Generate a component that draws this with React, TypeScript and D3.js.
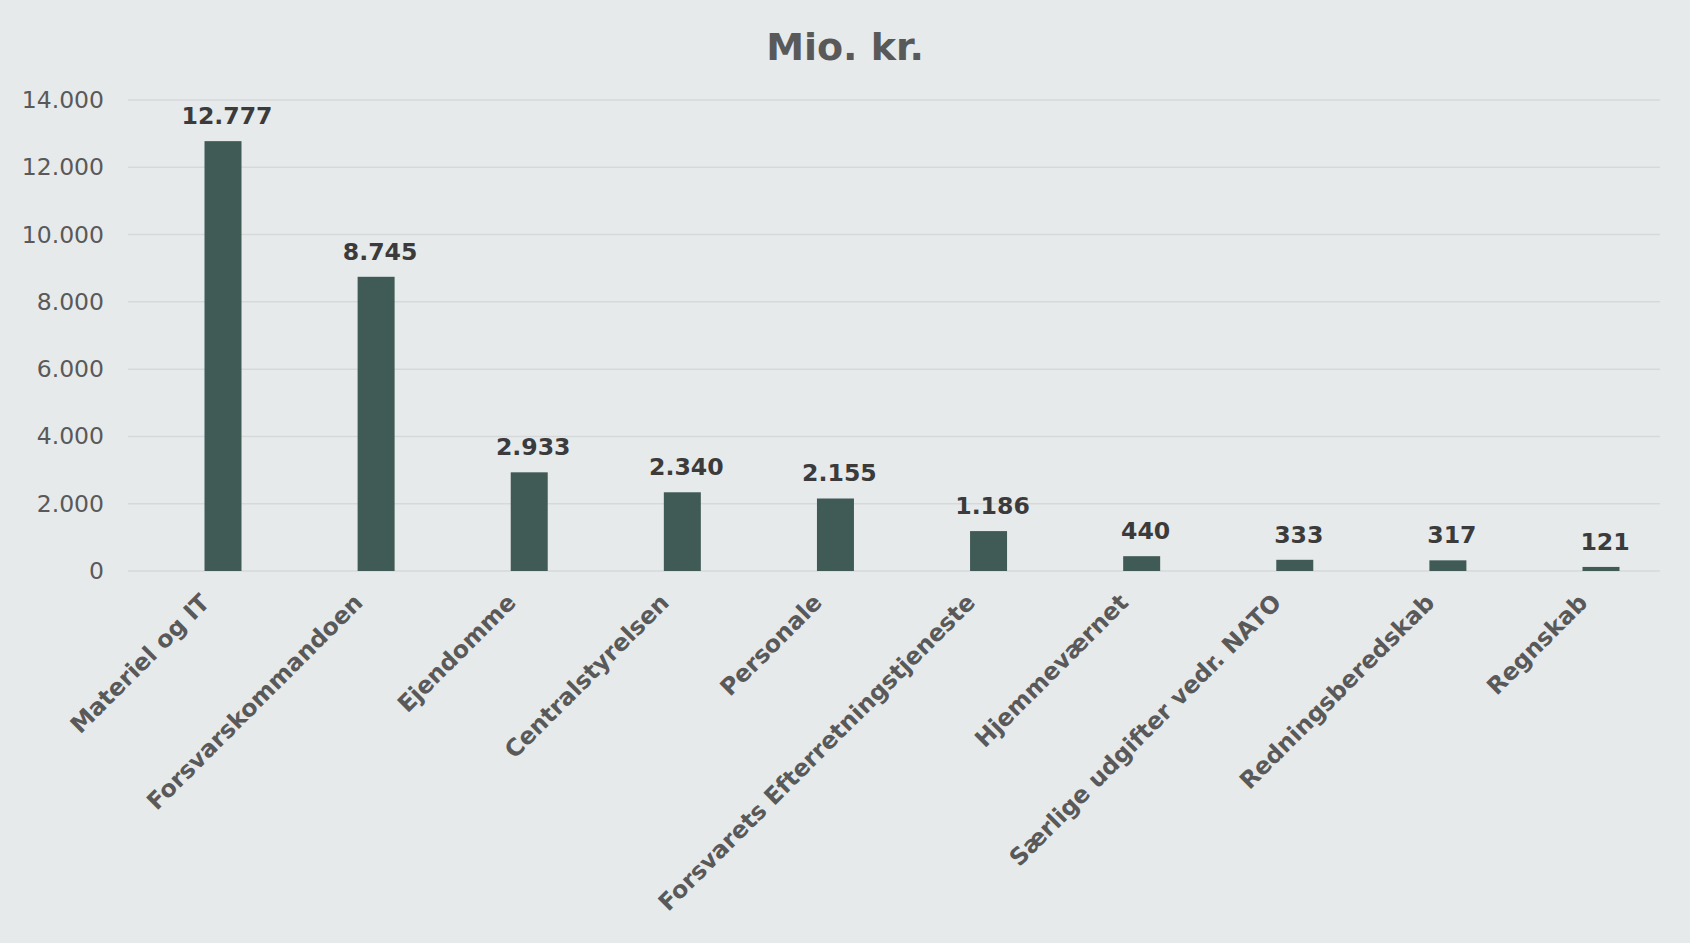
import React from "react";
import * as d3 from "d3";

const categories = [
  "Materiel og IT",
  "Forsvarskommandoen",
  "Ejendomme",
  "Centralstyrelsen",
  "Personale",
  "Forsvarets Efterretningstjeneste",
  "Hjemmeværnet",
  "Særlige udgifter vedr. NATO",
  "Redningsberedskab",
  "Regnskab",
];
const values = [12777, 8745, 2933, 2340, 2155, 1186, 440, 333, 317, 121];
const yTicks = [0, 2000, 4000, 6000, 8000, 10000, 12000, 14000];
const title = "Mio. kr.";

const W = 1690;
const H = 943;
const FONT = "'DejaVu Sans', Verdana, sans-serif";

const locale = d3.formatLocale({
  decimal: ",",
  thousands: ".",
  grouping: [3],
  currency: ["", " kr."],
});
const fmt = locale.format(",d");

export default function App() {
  const y = d3.scaleLinear().domain([0, 14000]).range([571, 100]);
  const x = d3.scalePoint<string>().domain(categories).range([223, 1601]);
  const barW = 37;
  const gridX0 = 128;
  const gridX1 = 1660;

  return (
    <svg
      width={W}
      height={H}
      style={{ position: "absolute", left: 0, top: 0, display: "block" }}
      fontFamily={FONT}
    >
      <rect x={0} y={0} width={W} height={H} fill="#E7EAEB" />
      <text
        x={845}
        y={60}
        textAnchor="middle"
        fontSize={38}
        fontWeight="bold"
        fill="#595959"
      >
        {title}
      </text>
      {yTicks.map((t) => (
        <g key={t}>
          <line
            x1={gridX0}
            x2={gridX1}
            y1={y(t)}
            y2={y(t)}
            stroke="#D6D9DB"
            strokeWidth={1.5}
          />
          <text
            x={104}
            y={y(t)}
            textAnchor="end"
            dominantBaseline="central"
            fontSize={23.5}
            fill="#595959"
          >
            {fmt(t)}
          </text>
        </g>
      ))}
      {categories.map((c, i) => {
        const cx = x(c) as number;
        const v = values[i];
        return (
          <g key={c}>
            <rect
              x={cx - barW / 2}
              y={y(v)}
              width={barW}
              height={y(0) - y(v)}
              fill="#405A56"
            />
            <text
              x={cx + 4}
              y={y(v) - 17}
              textAnchor="middle"
              fontSize={23.6}
              fontWeight="bold"
              fill="#3B3B3B"
            >
              {fmt(v)}
            </text>
            <text
              transform={`translate(${cx - 12},${604}) rotate(-45)`}
              textAnchor="end"
              fontSize={23.6}
              fontWeight="bold"
              fill="#595959"
            >
              {c}
            </text>
          </g>
        );
      })}
    </svg>
  );
}
